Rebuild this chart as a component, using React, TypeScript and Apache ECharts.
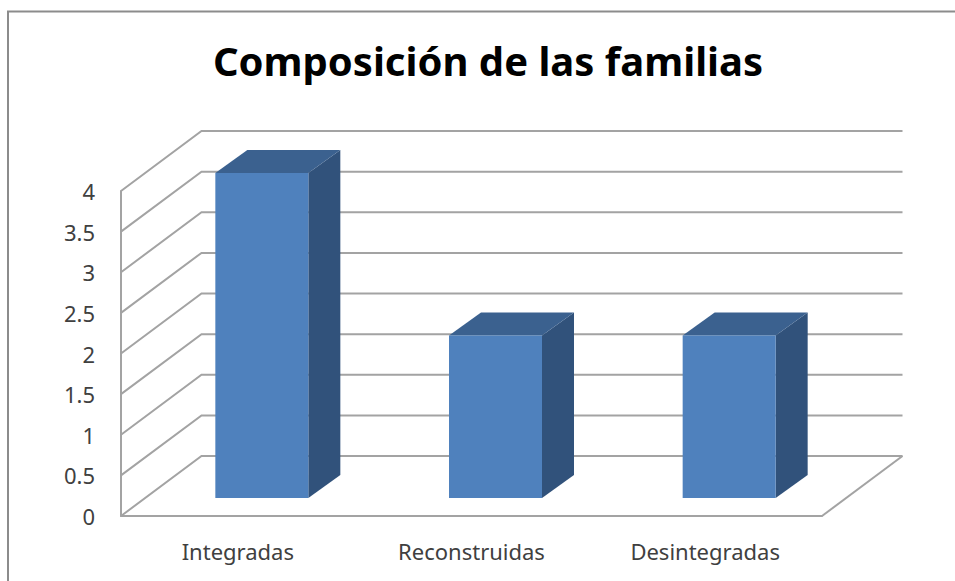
import React, { useEffect, useRef } from "react";
import * as echarts from "echarts";

const titleText = "Composición de las familias";
const categories = ["Integradas", "Reconstruidas", "Desintegradas"];
const values = [4, 2, 2];
const yTicks = [0, 0.5, 1, 1.5, 2, 2.5, 3, 3.5, 4];

const FONT = "'Noto Sans', sans-serif";
const LINE = "#a3a3a3";
const WALL_DX = 80.5;
const WALL_DY = -60;
const BAR_OFFSET_X = 24;
const BAR_OFFSET_Y = -18;
const BAR_DEPTH_X = 32;
const BAR_DEPTH_Y = -23;
const BAR_WIDTH = 93;

export default function App() {
  const ref = useRef<HTMLDivElement>(null);
  useEffect(() => {
    const chart = echarts.init(ref.current!, null, { renderer: "svg" });
    chart.setOption({
      animation: false,
      backgroundColor: "#ffffff",
      title: {
        text: titleText,
        left: 483,
        top: 35,
        textAlign: "center",
        textStyle: { fontFamily: FONT, fontWeight: "bold", fontSize: 40, color: "#000000" },
      },
      graphic: [
        {
          type: "polyline",
          shape: { points: [[8, 581], [8, 11.5], [955, 11.5]] },
          style: { stroke: "#8c8c8c", lineWidth: 2, fill: "none" },
          silent: true,
        },
      ],
      grid: { left: 121, right: 133, top: 191, bottom: 65 },
      xAxis: {
        type: "category",
        data: categories,
        axisTick: { show: false },
        axisLine: { show: true, lineStyle: { color: LINE, width: 2 } },
        axisLabel: { fontFamily: FONT, fontSize: 22, color: "#404040", margin: 24 },
        splitLine: { show: false },
      },
      yAxis: {
        type: "value",
        min: 0,
        max: 4,
        interval: 0.5,
        axisTick: { show: false },
        axisLine: { show: true, lineStyle: { color: LINE, width: 2 } },
        axisLabel: { fontFamily: FONT, fontSize: 22, color: "#404040", margin: 26 },
        splitLine: { show: false },
      },
      series: [
        {
          type: "custom",
          name: "walls",
          coordinateSystem: "cartesian2d",
          clip: false,
          silent: true,
          z: 1,
          data: yTicks.map((v) => [0, v]),
          renderItem: (params: any, api: any) => {
            const y = api.coord([0, api.value(1)])[1];
            const left = params.coordSys.x;
            const right = left + params.coordSys.width;
            const children: any[] = [
              {
                type: "polyline",
                shape: {
                  points: [
                    [left, y],
                    [left + WALL_DX, y + WALL_DY],
                    [right + WALL_DX, y + WALL_DY],
                  ],
                },
                style: { stroke: LINE, lineWidth: 2, fill: "none" },
              },
            ];
            if (api.value(1) === 0) {
              children.push({
                type: "line",
                shape: { x1: right, y1: y, x2: right + WALL_DX, y2: y + WALL_DY },
                style: { stroke: LINE, lineWidth: 2 },
              });
            }
            return { type: "group", children };
          },
        },
        {
          type: "custom",
          name: "Composición",
          coordinateSystem: "cartesian2d",
          clip: false,
          silent: true,
          z: 3,
          data: values.map((v, i) => [i, v]),
          renderItem: (_params: any, api: any) => {
            const top = api.coord([api.value(0), api.value(1)]);
            const base = api.coord([api.value(0), 0]);
            const x0 = base[0] + BAR_OFFSET_X - BAR_WIDTH / 2;
            const x1 = x0 + BAR_WIDTH;
            const yTop = top[1] + BAR_OFFSET_Y;
            const yBase = base[1] + BAR_OFFSET_Y;
            const dx = BAR_DEPTH_X;
            const dy = BAR_DEPTH_Y;
            return {
              type: "group",
              children: [
                {
                  type: "polygon",
                  shape: { points: [[x1, yTop], [x1 + dx, yTop + dy], [x1 + dx, yBase + dy], [x1, yBase]] },
                  style: { fill: "#31527b" },
                },
                {
                  type: "polygon",
                  shape: { points: [[x0, yTop], [x0 + dx, yTop + dy], [x1 + dx, yTop + dy], [x1, yTop]] },
                  style: { fill: "#3b618f" },
                },
                {
                  type: "rect",
                  shape: { x: x0, y: yTop, width: BAR_WIDTH, height: yBase - yTop },
                  style: { fill: "#4f81bd" },
                },
              ],
            };
          },
        },
      ],
    });
    return () => chart.dispose();
  }, []);
  return <div ref={ref} style={{ position: "fixed", left: 0, top: 0, width: 955, height: 581 }} />;
}
